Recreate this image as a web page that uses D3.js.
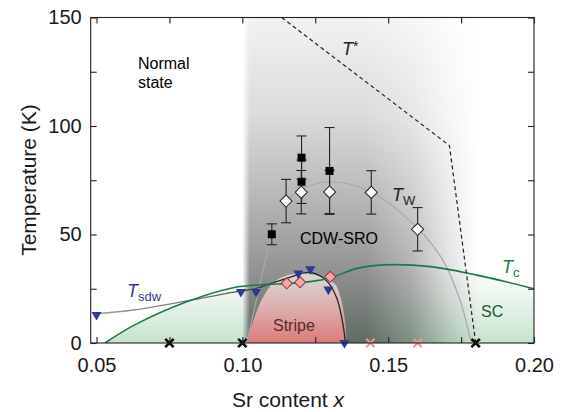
<!DOCTYPE html>
<html>
<head>
<meta charset="utf-8">
<script src="https://cdn.jsdelivr.net/npm/d3@7"></script>
<style>
  body { margin: 0; background: #fff; }
  svg { display: block; font-family: "Liberation Sans", Arial, Helvetica, sans-serif; }
</style>
</head>
<body>
<div id="chart"></div>
<script>
// ---- data (Sr content x, temperature K) ----
const tcCurve = [[0.0529,0],[0.0626,8],[0.0809,19],[0.0969,25.5],[0.1084,27],[0.115,27.3],[0.1244,28.5],
  [0.1301,30],[0.1393,34.4],[0.1484,36],[0.1645,35.2],[0.1828,30.6],[0.2,25]];
const tsdwCurve = [[0.05,13.5],[0.0626,15.2],[0.0809,19.4],[0.0995,24],[0.1038,24.8],[0.1152,29.8],
  [0.1233,32.5],[0.129,28.5],[0.1324,20.6],[0.1347,7],[0.1353,0]];
const twCurve = [[0.1015,0],[0.104,15],[0.1084,41],[0.1107,52],[0.1152,65],[0.12,70.5],[0.13,74.3],
  [0.1439,69.7],[0.16,53],[0.169,37.6],[0.1748,19],[0.1785,0]];
const tStarLine = [[0.1135,150],[0.171,91],[0.18,0]];
const stripeDome = [[0.1015,0],[0.1038,10.6],[0.1072,21.3],[0.1118,29],[0.121,32.1],[0.1314,27.5],
  [0.1336,21.3],[0.1353,9],[0.1357,0]];
const cdwRange = [0.1, 0.185];

const twPoints = [{x:0.115,t:65.4,e:10},{x:0.1202,t:69.5,e:10},{x:0.1299,t:69.6,e:10},
  {x:0.1442,t:69.4,e:10},{x:0.1601,t:52.4,e:10}];
const cdwSquares = [{x:0.1101,t:50.1,e:4.8},{x:0.1203,t:85.4,e:10},{x:0.1203,t:74.3,e:10},
  {x:0.1299,t:79.3,e:20}];
const stripeDiamonds = [[0.1152,27.5],[0.1198,28],[0.1301,30.5]];
const sdwTriangles = [[0.05,13],[0.0995,23.6],[0.1047,23.6],[0.1192,32.1],[0.1233,34],[0.1295,24.7],[0.135,0]];
const noOrderBlack = [0.075, 0.10, 0.18];
const noOrderPink = [0.1439, 0.1601];

const xTicks = [0.05, 0.075, 0.10, 0.125, 0.15, 0.175, 0.20];
const xTickLabels = ["0.05", "", "0.10", "", "0.15", "", "0.20"];
const yTicks = [0, 25, 50, 75, 100, 125, 150];
const yTickLabels = ["0", "", "50", "", "100", "", "150"];

// ---- layout ----
const W = 563, H = 412;
const pLeft = 90.7, pRight = 534, pTop = 17.5, pBottom = 343;

const x = d3.scaleLinear().domain([0.048, 0.2]).range([pLeft, pRight]);
const y = d3.scaleLinear().domain([0, 150]).range([pBottom, pTop]);

const svg = d3.select("#chart").append("svg")
  .attr("width", W).attr("height", H);

const defs = svg.append("defs");

// gray CDW-SRO shading: vertical darkness, masked horizontally
const gv = defs.append("linearGradient").attr("id", "grayV")
  .attr("gradientUnits", "userSpaceOnUse")
  .attr("x1", 0).attr("x2", 0).attr("y1", y(150)).attr("y2", y(0));
[[0, 0.05],[0.3, 0.14],[0.55, 0.28],[0.8, 0.44],[1, 0.52]].forEach(s =>
  gv.append("stop").attr("offset", s[0]).attr("stop-color", "#000").attr("stop-opacity", s[1]));

const gh = defs.append("linearGradient").attr("id", "grayH")
  .attr("gradientUnits", "userSpaceOnUse")
  .attr("x1", x(0.1)).attr("x2", x(0.185)).attr("y1", 0).attr("y2", 0);
[[0, 0],[0.03, 1],[0.5, 1],[0.68, 0.7],[0.82, 0.3],[0.95, 0]].forEach(s =>
  gh.append("stop").attr("offset", s[0]).attr("stop-color", "#fff").attr("stop-opacity", s[1]));

defs.append("mask").attr("id", "grayMask")
  .append("rect").attr("x", pLeft).attr("y", pTop).attr("width", pRight - pLeft).attr("height", pBottom - pTop)
  .attr("fill", "url(#grayH)");

// SC green shading
const gg = defs.append("linearGradient").attr("id", "scGrad")
  .attr("gradientUnits", "userSpaceOnUse")
  .attr("x1", 0).attr("x2", 0).attr("y1", y(36)).attr("y2", y(0));
[[0, "#ffffff"],[0.35, "#f0f7f2"],[1, "#c6e3cf"]].forEach(s =>
  gg.append("stop").attr("offset", s[0]).attr("stop-color", s[1]));

// stripe red shading
const gr = defs.append("linearGradient").attr("id", "stripeGrad")
  .attr("gradientUnits", "userSpaceOnUse")
  .attr("x1", 0).attr("x2", 0).attr("y1", y(32)).attr("y2", y(0));
[[0, "#e6e3e3", 0.85],[0.45, "#e8b8b8", 0.9],[1, "#e27b7b", 0.95]].forEach(s =>
  gr.append("stop").attr("offset", s[0]).attr("stop-color", s[1]).attr("stop-opacity", s[2]));

// Tsdw line: pale at low x, dark around the stripe dome
const gs = defs.append("linearGradient").attr("id", "sdwStroke")
  .attr("gradientUnits", "userSpaceOnUse")
  .attr("x1", x(0.05)).attr("x2", x(0.115)).attr("y1", 0).attr("y2", 0);
[[0, "#9a9a9a"],[0.6, "#707070"],[1, "#222"]].forEach(s =>
  gs.append("stop").attr("offset", s[0]).attr("stop-color", s[1]));

defs.append("clipPath").attr("id", "plotClip")
  .append("rect").attr("x", pLeft).attr("y", pTop).attr("width", pRight - pLeft).attr("height", pBottom - pTop);

const plot = svg.append("g").attr("clip-path", "url(#plotClip)");

plot.append("rect")
  .attr("x", x(cdwRange[0])).attr("y", pTop)
  .attr("width", x(cdwRange[1]) - x(cdwRange[0])).attr("height", pBottom - pTop)
  .attr("fill", "url(#grayV)")
  .attr("mask", "url(#grayMask)");

const area = d3.area().x(d => x(d[0])).y0(y(0)).y1(d => y(d[1])).curve(d3.curveCatmullRom);
const line = d3.line().x(d => x(d[0])).y(d => y(d[1])).curve(d3.curveCatmullRom);

plot.append("path").attr("d", area(tcCurve))
  .attr("fill", "url(#scGrad)")
  .style("mix-blend-mode", "multiply");

plot.append("path").attr("d", area(stripeDome))
  .attr("fill", "url(#stripeGrad)");

// lines
plot.append("path").attr("d", line(twCurve))
  .attr("fill", "none").attr("stroke", "#a8a8a8").attr("stroke-width", 1.2);

plot.append("path").attr("d", line(tsdwCurve))
  .attr("fill", "none").attr("stroke", "url(#sdwStroke)").attr("stroke-width", 1.3);

plot.append("path").attr("d", line(tcCurve))
  .attr("fill", "none").attr("stroke", "#1b7a45").attr("stroke-width", 1.6);

plot.append("path").attr("d", d3.line().x(d => x(d[0])).y(d => y(d[1]))(tStarLine))
  .attr("fill", "none").attr("stroke", "#222").attr("stroke-width", 1.2)
  .attr("stroke-dasharray", "4,3");

// error bars
function errorBars(data) {
  const g = svg.append("g").attr("stroke", "#222").attr("stroke-width", 1.1);
  data.forEach(d => {
    g.append("line").attr("x1", x(d.x)).attr("x2", x(d.x)).attr("y1", y(d.t + d.e)).attr("y2", y(d.t - d.e));
    [d.t + d.e, d.t - d.e].forEach(v =>
      g.append("line").attr("x1", x(d.x) - 5).attr("x2", x(d.x) + 5).attr("y1", y(v)).attr("y2", y(v)));
  });
}
errorBars(twPoints);
errorBars(cdwSquares);

// markers
svg.append("g").selectAll("rect").data(cdwSquares).enter().append("rect")
  .attr("x", d => x(d.x) - 4).attr("y", d => y(d.t) - 4)
  .attr("width", 8).attr("height", 8).attr("fill", "#000");

const diamond = d3.symbol().type(d3.symbolSquare);
svg.append("g").selectAll("path").data(twPoints).enter().append("path")
  .attr("d", diamond.size(74)())
  .attr("transform", d => `translate(${x(d.x)},${y(d.t)}) rotate(45)`)
  .attr("fill", "#fff").attr("stroke", "#222").attr("stroke-width", 1);

svg.append("g").selectAll("path").data(stripeDiamonds).enter().append("path")
  .attr("d", d3.symbol().type(d3.symbolSquare).size(62)())
  .attr("transform", d => `translate(${x(d[0])},${y(d[1])}) rotate(45)`)
  .attr("fill", "#f4a7a7").attr("stroke", "#8e3b3b").attr("stroke-width", 1);

svg.append("g").selectAll("path").data(sdwTriangles).enter().append("path")
  .attr("d", d3.symbol().type(d3.symbolTriangle).size(44)())
  .attr("transform", d => `translate(${x(d[0])},${y(d[1])}) rotate(180)`)
  .attr("fill", "#2d3a95");

function crosses(vals, color, sw) {
  const g = svg.append("g").attr("stroke", color).attr("stroke-width", sw);
  vals.forEach(v => {
    const cx = x(v), cy = y(0), r = 4.2;
    g.append("line").attr("x1", cx - r).attr("y1", cy - r).attr("x2", cx + r).attr("y2", cy + r);
    g.append("line").attr("x1", cx - r).attr("y1", cy + r).attr("x2", cx + r).attr("y2", cy - r);
  });
}
crosses(noOrderPink, "#f19191", 2);
crosses(noOrderBlack, "#000", 2.6);

// annotations
const ann = svg.append("g");
ann.append("text").attr("x", 138).attr("y", 69).attr("font-size", 16).text("Normal");
ann.append("text").attr("x", 138).attr("y", 88).attr("font-size", 16).text("state");
ann.append("text").attr("x", 300).attr("y", 244).attr("font-size", 16).text("CDW-SRO");
ann.append("text").attr("x", 273).attr("y", 331).attr("font-size", 16).attr("fill", "#5a2a2a").text("Stripe");
ann.append("text").attr("x", 481).attr("y", 317).attr("font-size", 16).attr("fill", "#1d5a33").text("SC");

function tLabel(px, py, sub, color, sup) {
  const t = ann.append("text").attr("x", px).attr("y", py).attr("font-size", 18).attr("fill", color);
  t.append("tspan").attr("font-style", "italic").text("T");
  if (sub) t.append("tspan").attr("font-size", 13).attr("dy", 4).text(sub);
  if (sup) t.append("tspan").attr("font-size", 14).attr("dy", -4).text(sup);
}
tLabel(342, 55, null, "#222", "*");
tLabel(392, 201, "W", "#222");
tLabel(502, 273, "c", "#1b7a45");
tLabel(127, 297, "sdw", "#2d3a95");

// axes frame and ticks (inward)
const axisG = svg.append("g");
axisG.append("rect").attr("x", pLeft).attr("y", pTop).attr("width", pRight - pLeft).attr("height", pBottom - pTop)
  .attr("fill", "none").attr("stroke", "#222").attr("stroke-width", 1.1);

axisG.append("g").attr("transform", `translate(0,${pBottom})`)
  .call(d3.axisBottom(x).tickValues(xTicks).tickSizeInner(-6).tickSizeOuter(0).tickPadding(15)
    .tickFormat((d, i) => xTickLabels[i]))
  .call(g => g.select(".domain").remove());
axisG.append("g").attr("transform", `translate(0,${pTop})`)
  .call(d3.axisTop(x).tickValues(xTicks).tickSizeInner(-6).tickSizeOuter(0).tickFormat(""))
  .call(g => g.select(".domain").remove());
axisG.append("g").attr("transform", `translate(${pLeft},0)`)
  .call(d3.axisLeft(y).tickValues(yTicks).tickSizeInner(-6).tickSizeOuter(0).tickPadding(9)
    .tickFormat((d, i) => yTickLabels[i]))
  .call(g => g.select(".domain").remove());
axisG.append("g").attr("transform", `translate(${pRight},0)`)
  .call(d3.axisRight(y).tickValues(yTicks).tickSizeInner(-6).tickSizeOuter(0).tickFormat(""))
  .call(g => g.select(".domain").remove());

axisG.selectAll(".tick line").attr("stroke", "#222").attr("stroke-width", 1.1);
axisG.selectAll(".tick text").attr("font-size", 20).attr("fill", "#1a1a1a")
  .attr("font-family", "'Liberation Sans', Arial, sans-serif");

// axis titles
svg.append("text")
  .attr("transform", "translate(36,180) rotate(-90)")
  .attr("text-anchor", "middle").attr("font-size", 21).attr("fill", "#1a1a1a")
  .text("Temperature (K)");

const xt = svg.append("text").attr("x", 288).attr("y", 407)
  .attr("text-anchor", "middle").attr("font-size", 21).attr("fill", "#1a1a1a");
xt.append("tspan").text("Sr content ");
xt.append("tspan").attr("font-style", "italic").text("x");
</script>
</body>
</html>
